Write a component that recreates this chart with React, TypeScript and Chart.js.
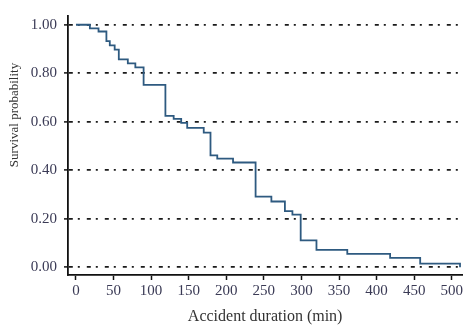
import React, { useEffect, useRef } from "react";
import { Chart, registerables } from "chart.js";

Chart.register(...registerables);

// Kaplan-Meier survival steps: event time (min) and survival after that time
const eventTimes = [0, 18.5, 30, 40.5, 45, 51.5, 57, 69, 79, 90, 119, 130, 140, 148, 170, 179, 188, 209, 239, 260, 278, 288, 299, 320, 361, 418, 458, 511];
const survival = [1.0, 0.985, 0.972, 0.932, 0.915, 0.897, 0.857, 0.841, 0.824, 0.752, 0.624, 0.612, 0.595, 0.575, 0.555, 0.461, 0.448, 0.432, 0.291, 0.271, 0.231, 0.217, 0.111, 0.072, 0.055, 0.039, 0.015, 0.0];
const xTicks = [0, 50, 100, 150, 200, 250, 300, 350, 400, 450, 500];
const yTicks = [0, 0.2, 0.4, 0.6, 0.8, 1.0];
const xTitle = "Accident duration (min)";
const yTitle = "Survival probability";

const FONT = "'Liberation Serif', 'Times New Roman', serif";

export default function App() {
  const ref = useRef<HTMLCanvasElement | null>(null);

  useEffect(() => {
    if (!ref.current) return;
    const yTitlePlugin = {
      id: "yTitle",
      afterDraw(chart: any) {
        const ctx = chart.ctx;
        ctx.save();
        ctx.translate(15, 115);
        ctx.rotate(-Math.PI / 2);
        ctx.font = `13px ${FONT}`;
        ctx.fillStyle = "#333";
        ctx.textAlign = "center";
        ctx.textBaseline = "middle";
        ctx.fillText(yTitle, 0, 0);
        ctx.restore();
      },
    };
    const chart = new Chart(ref.current, {
      type: "line",
      data: {
        datasets: [
          {
            data: eventTimes.map((t, i) => ({ x: t, y: survival[i] })),
            stepped: true,
            borderColor: "#2e5a80",
            borderWidth: 1.8,
            pointRadius: 0,
            fill: false,
          },
        ],
      },
      options: {
        animation: false,
        responsive: false,
        events: [],
        layout: { padding: { top: 7, right: 0, left: 0, bottom: 0 } },
        plugins: { legend: { display: false }, tooltip: { enabled: false } },
        scales: {
          x: {
            type: "linear",
            min: -10.6,
            max: 514,
            afterBuildTicks: (scale: any) => {
              scale.ticks = xTicks.map((v) => ({ value: v }));
            },
            afterFit: (scale: any) => {
              scale.height = 51;
            },
            border: { display: true, color: "#111", width: 1.8 },
            grid: {
              display: true,
              drawOnChartArea: false,
              drawTicks: true,
              tickLength: 5,
              tickColor: "#111",
              tickWidth: 1.5,
            },
            ticks: {
              autoSkip: false,
              maxRotation: 0,
              padding: 2,
              color: "#3a3a55",
              font: { family: FONT, size: 15 },
            },
            title: {
              display: true,
              text: xTitle,
              color: "#333",
              font: { family: FONT, size: 16 },
              padding: { top: 1, bottom: 0 },
            },
          },
          y: {
            type: "linear",
            min: -0.032,
            max: 1.036,
            afterBuildTicks: (scale: any) => {
              scale.ticks = yTicks.map((v) => ({ value: v }));
            },
            afterFit: (scale: any) => {
              scale.width = 68;
            },
            border: { display: true, color: "#111", width: 1.8, dash: [4, 5, 2, 7] },
            grid: {
              display: true,
              drawOnChartArea: true,
              drawTicks: true,
              tickLength: 4,
              tickColor: "#111",
              tickWidth: 1.5,
              tickBorderDash: [],
              color: "#1a1a1a",
              lineWidth: 1.8,
            } as any,
            ticks: {
              padding: 7,
              color: "#3a3a55",
              font: { family: FONT, size: 15 },
              callback: (v: any) => Number(v).toFixed(2),
            },
          },
        },
      },
      plugins: [yTitlePlugin],
    } as any);
    return () => chart.destroy();
  }, []);

  return (
    <div style={{ position: "fixed", left: 0, top: 0, width: 465, height: 326, background: "#fff" }}>
      <canvas ref={ref} width={465} height={326} style={{ width: 465, height: 326, display: "block" }} />
    </div>
  );
}
